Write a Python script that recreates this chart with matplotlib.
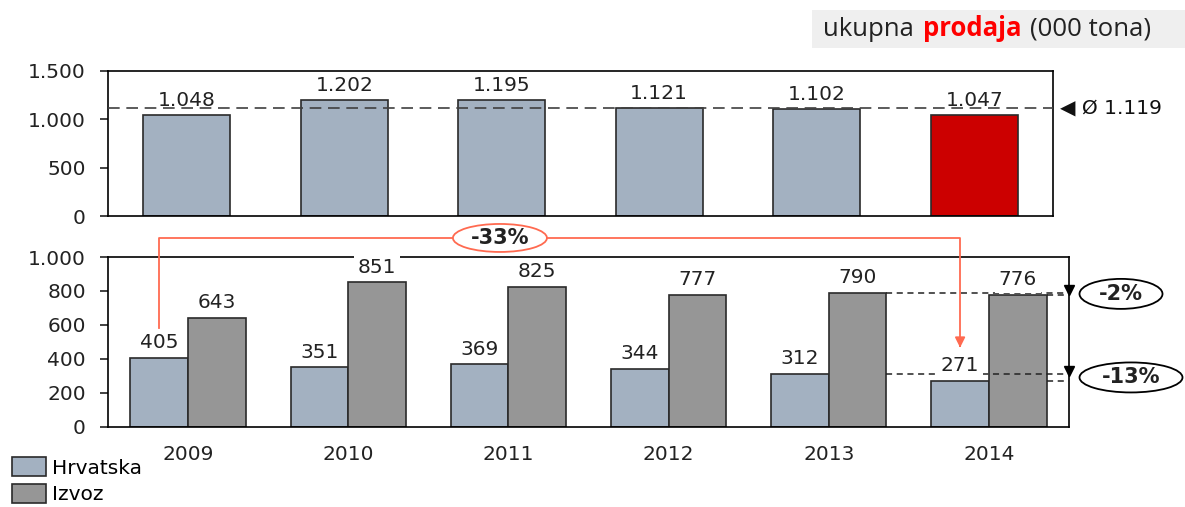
import matplotlib
matplotlib.use("Agg")
import matplotlib.pyplot as plt
from matplotlib.patches import Rectangle, Patch, Ellipse
from matplotlib.ticker import FuncFormatter
import matplotlib.transforms as mtrans

years = ["2009", "2010", "2011", "2012", "2013", "2014"]
ukupno = [1048, 1202, 1195, 1121, 1102, 1047]
hrvatska = [405, 351, 369, 344, 312, 271]
izvoz = [643, 851, 825, 777, 790, 776]
prosjek = 1119
series_names = ["Hrvatska", "Izvoz"]

C_HR = "#a3b1c1"
C_IZ = "#969696"
C_RED = "#cc0000"
C_ARROW = "#ff6a50"
EDGE = "#2a2a2a"
FONT = "DejaVu Sans"
FS = 14.5

plt.rcParams['font.family'] = [FONT, "DejaVu Sans"]
W, H = 1185, 507
fig = plt.figure(figsize=(W / 100, H / 100), dpi=100)

def fx(px):
    return px / W

def fy(py):
    return 1 - py / H

def dotfmt(v):
    return f"{int(round(v)):,}".replace(",", ".")

# ---------- top chart ----------
ax1 = fig.add_axes([fx(108), fy(216), fx(1053) - fx(108), fy(71) - fy(216)])
x = list(range(len(years)))
colors = [C_HR] * (len(years) - 1) + [C_RED]
ax1.bar(x, ukupno, width=0.55, color=colors, edgecolor=EDGE, linewidth=1.2, zorder=2)
ax1.set_xlim(-0.5, len(years) - 0.5)
ax1.set_ylim(0, 1500)
ax1.set_yticks([0, 500, 1000, 1500])
ax1.yaxis.set_major_formatter(FuncFormatter(lambda v, p: dotfmt(v)))
ax1.set_xticks([])
ax1.tick_params(axis="y", direction="out", length=6, width=1.2, pad=10, labelsize=FS, colors="#222222")
for s in ax1.spines.values():
    s.set_linewidth(1.2)
    s.set_color("black")
ax1.axhline(prosjek, color="#404040", lw=1.2, ls=(0, (7, 4)), zorder=3)
for xi, v in zip(x, ukupno):
    ax1.annotate(dotfmt(v), (xi, v), xytext=(0, 6.5), textcoords="offset points",
                 ha="center", va="baseline", fontsize=FS, color="#222222")
ax1.annotate("◀ Ø " + dotfmt(prosjek), (1, prosjek), xycoords=("axes fraction", "data"),
             xytext=(5, 0), textcoords="offset points", ha="left", va="center",
             fontsize=FS, color="#111111", annotation_clip=False)

# ---------- bottom chart ----------
ax2 = fig.add_axes([fx(108), fy(427), fx(1069) - fx(108), fy(257) - fy(427)])
bw = 0.36
xh = [i - bw / 2 for i in x]
xi_ = [i + bw / 2 for i in x]
ax2.bar(xh, hrvatska, width=bw, color=C_HR, edgecolor=EDGE, linewidth=1.2, zorder=2)
ax2.bar(xi_, izvoz, width=bw, color=C_IZ, edgecolor=EDGE, linewidth=1.2, zorder=2)
ax2.set_xlim(-0.5, len(years) - 0.5)
ax2.set_ylim(0, 1000)
ax2.set_yticks([0, 200, 400, 600, 800, 1000])
ax2.yaxis.set_major_formatter(FuncFormatter(lambda v, p: dotfmt(v)))
ax2.set_xticks(x)
ax2.set_xticklabels(years)
ax2.tick_params(axis="x", length=0, pad=13, labelsize=FS, colors="#222222")
ax2.tick_params(axis="y", direction="out", length=6, width=1.2, pad=10, labelsize=FS, colors="#222222")
for s in ax2.spines.values():
    s.set_linewidth(1.2)
    s.set_color("black")
for xs, vals in ((xh, hrvatska), (xi_, izvoz)):
    for xv, v in zip(xs, vals):
        ax2.annotate(str(v), (xv, v), xytext=(0, 7), textcoords="offset points",
                     ha="center", va="baseline", fontsize=FS, color="#222222", zorder=5,
                     bbox=dict(boxstyle="square,pad=0.2", fc="white", ec="none"),
                     annotation_clip=False)

# red -33% connector
bt = mtrans.blended_transform_factory(ax2.transData, ax2.transAxes)
top_y = 1.112
x0, x1 = xh[0], xh[-1]
y0 = (hrvatska[0] + 176) / 1000
y1 = (hrvatska[-1] + 196) / 1000
ax2.plot([x0, x0, x1, x1], [y0, top_y, top_y, y1 + 0.02], transform=bt, color=C_ARROW,
         lw=1.3, clip_on=False, zorder=6)
ax2.annotate("", xy=(x1, y1), xycoords=bt, xytext=(x1, y1 + 0.03), textcoords=bt,
             arrowprops=dict(arrowstyle="-|>,head_length=0.6,head_width=0.3", color=C_ARROW, lw=1.3),
             annotation_clip=False, zorder=6)
pct_total = round((hrvatska[-1] / hrvatska[0] - 1) * 100)
ident = mtrans.IdentityTransform()

def ellipse_label(center_disp, w, h, text, ec):
    e = Ellipse(center_disp, w, h, transform=ident, facecolor="white", edgecolor=ec, lw=1.3, zorder=7)
    fig.patches.append(e)
    fig.text(center_disp[0] / W, center_disp[1] / H, text, ha="center", va="center",
             fontsize=FS + 0.5, fontweight="bold", color="#222222", zorder=8)

c33 = bt.transform((1.947, top_y))
ellipse_label(c33, 94, 28, f"{pct_total}%", C_ARROW)

# right side change annotations
br = mtrans.blended_transform_factory(ax2.transAxes, ax2.transData)
x_start_prev = xi_[-2] + bw / 2
x_start_last = xi_[-1] + bw / 2
for (a_prev, a_last), dx, ew in (((izvoz[-2], izvoz[-1]), 52, 83),
                                 ((hrvatska[-2], hrvatska[-1]), 62, 103)):
    ax2.plot([x_start_prev, 5.5], [a_prev, a_prev], color="#222222", lw=1.1,
             ls=(0, (4, 3)), zorder=3, clip_on=False)
    ax2.plot([x_start_last, 5.5], [a_last, a_last], color="#222222", lw=1.1,
             ls=(0, (4, 3)), zorder=3, clip_on=False)
    tri = mtrans.offset_copy(br, fig=fig, x=0, y=3, units="dots")
    ax2.plot([1.0], [a_prev], marker="v", color="black", markersize=7, transform=tri,
             clip_on=False, zorder=6)
    pct = round((a_last / a_prev - 1) * 100)
    cx, cy = br.transform((1.0, (a_prev + a_last) / 2))
    ellipse_label((cx + dx, cy), ew, 30, f"{pct}%", "black")

# legend
handles = [Patch(facecolor=C_HR, edgecolor=EDGE, linewidth=1.2),
           Patch(facecolor=C_IZ, edgecolor=EDGE, linewidth=1.2)]
fig.legend(handles, series_names, loc="upper left", bbox_to_anchor=(fx(12), fy(457)),
           frameon=False, fontsize=FS, handlelength=1.7, handleheight=1.1,
           handletextpad=0.3, labelspacing=0.3, borderpad=0, borderaxespad=0)

# title box
fig.patches.append(Rectangle((fx(812), fy(48)), fx(1185) - fx(812), fy(10) - fy(48),
                             transform=fig.transFigure, facecolor="#efefef", edgecolor="none"))
parts = [("ukupna", "#222222", "normal"), ("prodaja", "#ff0000", "bold"), ("(000 tona)", "#222222", "normal")]
renderer = fig.canvas.get_renderer()
xpos = 823
space_px = 9
for txt, col, wt in parts:
    t = fig.text(fx(xpos), fy(36), txt, color=col, fontweight=wt, fontsize=18.5,
                 family="Open Sans", ha="left", va="baseline")
    bb = t.get_window_extent(renderer=renderer)
    xpos += bb.width + space_px

fig.savefig("out.png", dpi=100)
